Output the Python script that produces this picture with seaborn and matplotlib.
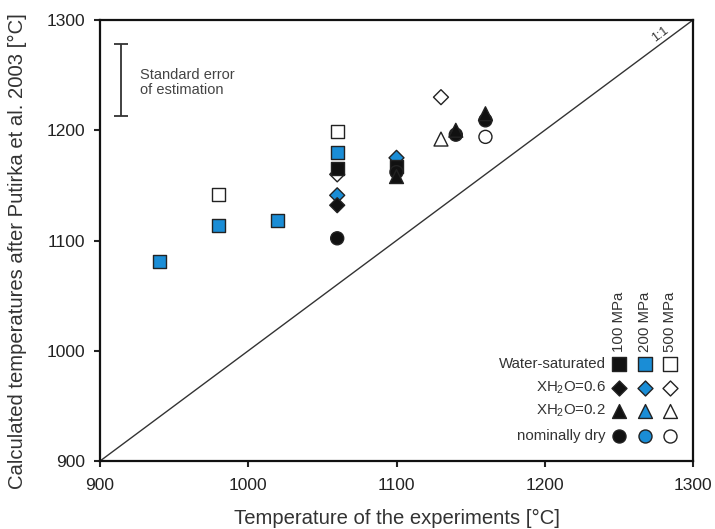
import matplotlib
matplotlib.use("Agg")
import matplotlib.pyplot as plt
import seaborn as sns
import pandas as pd

# Experimental vs. calculated temperatures (°C), listed in drawing order
t_exp = [1060, 980, 1060, 940, 980, 1020, 1060, 1060, 1060, 1060,
         1060, 1100, 1100, 1100, 1100, 1130, 1130, 1140, 1140, 1160, 1160, 1160]
t_calc = [1160, 1142, 1199, 1081, 1114, 1118, 1180, 1165, 1141, 1132,
          1102, 1175, 1167, 1162, 1158, 1230, 1192, 1196, 1200, 1194, 1209, 1215]
condition = ["XH2O=0.6", "Water-saturated", "Water-saturated", "Water-saturated",
             "Water-saturated", "Water-saturated", "Water-saturated", "Water-saturated",
             "XH2O=0.6", "XH2O=0.6", "nominally dry", "XH2O=0.6", "Water-saturated",
             "nominally dry", "XH2O=0.2", "XH2O=0.6", "XH2O=0.2", "nominally dry",
             "XH2O=0.2", "nominally dry", "nominally dry", "XH2O=0.2"]
pressure = ["500 MPa", "500 MPa", "500 MPa", "200 MPa", "200 MPa", "200 MPa",
            "200 MPa", "100 MPa", "200 MPa", "100 MPa", "100 MPa", "200 MPa",
            "100 MPa", "100 MPa", "100 MPa", "500 MPa", "500 MPa", "100 MPa",
            "100 MPa", "500 MPa", "100 MPa", "100 MPa"]

conditions = ["Water-saturated", "XH2O=0.6", "XH2O=0.2", "nominally dry"]
condition_labels = ["Water-saturated", "XH$_\\mathregular{2}$O=0.6",
                    "XH$_\\mathregular{2}$O=0.2", "nominally dry"]
pressures = ["100 MPa", "200 MPa", "500 MPa"]

# Standard error of estimation (centre and half-width, °C)
se_center = 1245.5
se_half = 32.7

markers = {"Water-saturated": "s", "XH2O=0.6": "D", "XH2O=0.2": "^", "nominally dry": "o"}
sizes = {"Water-saturated": 88, "XH2O=0.6": 58, "XH2O=0.2": 100, "nominally dry": 88}
palette = {"100 MPa": "#111111", "200 MPa": "#1A8DD6", "500 MPa": "#FFFFFF"}
edge = "#222222"
text_col = "#333333"

sns.set_theme(style="ticks")
plt.rcParams["font.family"] = ["Liberation Sans", "DejaVu Sans"]
plt.rcParams["mathtext.fontset"] = "custom"
plt.rcParams["mathtext.rm"] = "Liberation Sans"
plt.rcParams["mathtext.it"] = "Liberation Sans:italic"

df = pd.DataFrame({"t_exp": t_exp, "t_calc": t_calc,
                   "condition": condition, "pressure": pressure})

fig = plt.figure(figsize=(7.15, 5.29), dpi=100)
ax = fig.add_axes([0.1399, 0.1285, 0.8293, 0.8337])

# 1:1 reference line
ax.plot([900, 1300], [900, 1300], color="#333333", lw=1.0, zorder=1)
ax.text(1280, 1283, "1:1", rotation=36.6, rotation_mode="anchor",
        ha="center", va="bottom", fontsize=9, color=text_col)

sns.scatterplot(data=df, x="t_exp", y="t_calc", hue="pressure", style="condition",
                size="condition", markers=markers, sizes=sizes, palette=palette,
                edgecolor=edge, linewidth=1.0, legend=False, ax=ax, zorder=3)

# Standard error bar
ax.errorbar([914], [se_center], yerr=[se_half], color="#333333", lw=1.3,
            capsize=5, capthick=1.3, fmt="none")
ax.text(0.0675, 0.858, "Standard error\nof estimation", transform=ax.transAxes,
        fontsize=10.5, color="#444444", va="center", ha="left", linespacing=1.1)

ax.set_xlim(900, 1300)
ax.set_ylim(900, 1300)
ax.set_xticks([900, 1000, 1100, 1200, 1300])
ax.set_yticks([900, 1000, 1100, 1200, 1300])
ax.tick_params(axis="both", direction="out", length=4, width=1.5,
               labelsize=12.5, colors="#222222")
ax.tick_params(axis="y", pad=7)
ax.tick_params(axis="x", pad=8)
for side in ["left", "bottom", "top", "right"]:
    ax.spines[side].set_visible(True)
    ax.spines[side].set_linewidth(1.6)
    ax.spines[side].set_color("#111111")

ax.set_xlabel("Temperature of the experiments [°C]", fontsize=14.6,
              color=text_col, labelpad=12)
ax.set_ylabel("Calculated temperatures after Putirka et al. 2003 [°C]",
              fontsize=14.6, color=text_col)
ax.yaxis.set_label_coords(-0.123, 0.476)

# Legend grid: rows = water condition, columns = pressure
col_x = [0.8759, 0.9184, 0.9609]
row_y = [0.2195, 0.1662, 0.1129, 0.0571]
for j, p in enumerate(pressures):
    ax.text(col_x[j], 0.248, p, rotation=90, transform=ax.transAxes,
            ha="center", va="bottom", fontsize=10.8, color=text_col)
for i, (c, lab) in enumerate(zip(conditions, condition_labels)):
    ax.text(0.8533, row_y[i], lab, transform=ax.transAxes, ha="right",
            va="center", fontsize=10.8, color=text_col)
    for j, p in enumerate(pressures):
        ax.scatter([col_x[j]], [row_y[i]], marker=markers[c], s=sizes[c],
                   facecolor=palette[p], edgecolor=edge, linewidth=1.0,
                   transform=ax.transAxes, clip_on=False, zorder=4)

fig.savefig("out.png", dpi=100, facecolor="white")
